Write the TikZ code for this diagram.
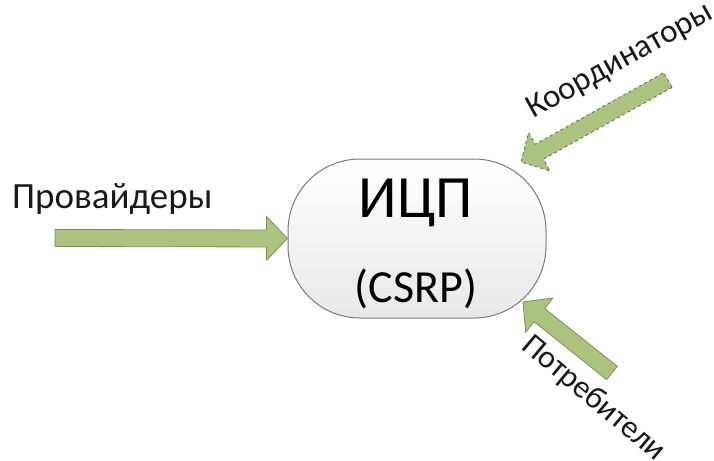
\documentclass[tikz,border=0pt]{standalone}
\usepackage{fontspec}
\setmainfont{Carlito}
\usetikzlibrary{calc,positioning}

\definecolor{arrowfill}{HTML}{ABC37E}
\definecolor{arrowline}{HTML}{7E8F5C}
\definecolor{boxline}{HTML}{7A7A7A}

\tikzset{
  flowarrow/.style={fill=arrowfill, draw=arrowline, line width=0.8pt, line join=round},
  csrpbox/.style={rounded corners=72pt, draw=boxline, line width=1pt,
    top color=white, bottom color=gray!18,
    minimum width=258pt, minimum height=159pt, inner sep=0pt},
  roletext/.style={font=\fontsize{37}{40}\selectfont, inner sep=0pt, text=black!90},
}

% block arrow from #2 (tail) to #3 (tip)
\newcommand{\blockarrow}[3][]{%
  \path ($(#3)!21pt!(#2)$) coordinate (hb);
  \draw[flowarrow,#1] ($(#2)!8.5pt!90:(#3)$) -- ($(hb)!8.5pt!90:(#3)$)
    -- ($(hb)!22pt!90:(#3)$) -- (#3) -- ($(hb)!22pt!-90:(#3)$)
    -- ($(hb)!8.5pt!-90:(#3)$) -- ($(#2)!8.5pt!-90:(#3)$) -- cycle;
}

\begin{document}
\begin{tikzpicture}[x=1pt, y=-1pt]
\useasboundingbox (0,0) rectangle (714,460);
% Center
\node[csrpbox] (icp) at (417,238.5) {};
\node[anchor=base, font=\fontsize{60}{62}\selectfont, inner sep=0pt] (icpname) at (416,217) {ИЦП};
\node[anchor=base, font=\fontsize{46}{48}\selectfont, inner sep=0pt] (csrpname) at (416,302) {(CSRP)};
% Ends of the arrows
\coordinate (provtail) at (55,238);
\coordinate (coordtail) at (668,80);
\coordinate (coordtip) at (521,162);
\coordinate (constail) at (612,373);
\coordinate (constip) at (523,302);
% Arrows
\blockarrow{provtail}{icp.west}
\blockarrow[dashed, draw=black!60]{coordtail}{coordtip}
\blockarrow{constail}{constip}
% Labels
\node[roletext, anchor=base west] (prov) at (12,208) {Провайдеры};
\node[roletext, anchor=base west, rotate=29, font=\fontsize{33}{36}\selectfont] (coord) at (533,119) {Координаторы};
\node[roletext, anchor=base west, rotate=-40, font=\fontsize{32}{34}\selectfont] (cons) at (520,348) {Потребители};
\end{tikzpicture}
\end{document}
